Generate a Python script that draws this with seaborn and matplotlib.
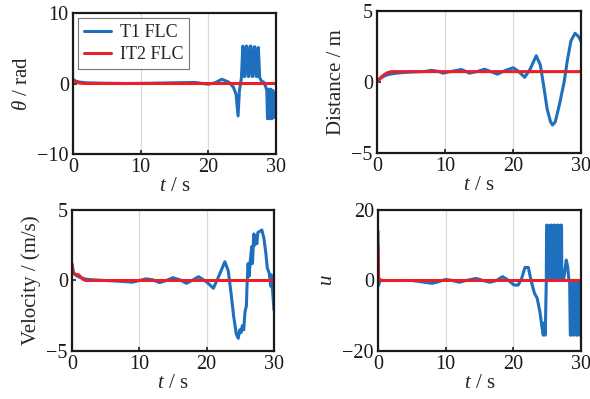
import numpy as np
import pandas as pd
import matplotlib
matplotlib.use("Agg")
import matplotlib.pyplot as plt
import seaborn as sns
from matplotlib.lines import Line2D

# ---------------- data (knots) ----------------
series_names = ["T1 FLC", "IT2 FLC"]
colors = ["#1f6fbf", "#e8202a"]

# theta
theta_t1_t = [0, 0.5, 1, 2, 4, 8, 12, 15, 18, 20, 21, 22, 23, 23.7, 24.1, 24.4, 24.6, 24.9,
              25.1, 25.3, 25.4, 25.6, 25.7, 25.9, 26.0, 26.2, 26.3, 26.5, 26.6, 26.8, 26.9, 27.1,
              27.2, 27.4, 27.6, 27.9, 28.2, 28.5, 28.65, 28.75, 28.95, 29.1, 29.25, 29.4, 29.55, 29.75, 29.9, 30]
theta_t1_y = [0.5, 0.3, 0.2, 0.1, 0.05, 0.0, 0.05, 0.1, 0.15, -0.1, 0.1, 0.6, 0.2, -0.5, -1.5, -4.6, -1.0, 0.8,
              5.3, 1.0, 1.0, 5.3, 5.3, 1.0, 1.0, 5.3, 5.3, 1.0, 1.0, 5.2, 5.2, 1.0,
              1.0, 5.1, 0.8, 0.3, 0.2, -0.5, -1.0, -5.0, -0.8, -5.0, -0.8, -5.0, -1.0, -4.8, -1.5, -3.3]
theta_it2_t = [0, 0.5, 1, 2, 30]
theta_it2_y = [0.6, 0.2, 0.05, 0.0, 0.0]

# distance
dist_t1_t = [0, 0.5, 1, 1.5, 2, 3, 4, 5, 6, 7, 8, 9, 9.7, 11, 12.4, 13.6, 14.8, 15.8, 16.8, 17.7,
             18.8, 20, 20.8, 21.7, 22.5, 23.4, 24.0, 24.5, 25.0, 25.5, 25.8, 26.2, 26.8, 27.5,
             28.0, 28.5, 29.1, 29.6, 30]
dist_t1_y = [0.0, 0.25, 0.4, 0.5, 0.56, 0.63, 0.67, 0.7, 0.72, 0.74, 0.82, 0.75, 0.62, 0.75, 0.88, 0.62, 0.75, 0.9, 0.72, 0.55,
             0.8, 1.0, 0.75, 0.33, 0.9, 1.85, 1.2, -0.3, -1.9, -2.8, -3.03, -2.8, -1.6, 0.0,
             1.6, 2.9, 3.43, 3.2, 2.84]
dist_it2_t = [0, 0.5, 1, 1.5, 2, 2.5, 30]
dist_it2_y = [0.0, 0.3, 0.5, 0.65, 0.72, 0.73, 0.73]

# velocity
vel_t1_t = [0, 0.2, 0.5, 1, 2, 3, 5, 7, 9, 10, 11, 12, 13, 14, 15, 16, 17, 18, 18.8, 20, 21,
            21.8, 22.7, 23.2, 23.6, 24.0, 24.4, 24.7, 24.9, 25.1, 25.3, 25.5, 25.7, 25.9, 26.0,
            26.15, 26.3, 26.5, 26.7, 26.8, 27.0, 27.1, 27.3, 27.45, 27.6, 28.2, 28.5, 28.8, 29.0,
            29.3, 29.5, 29.6, 29.8, 30]
vel_t1_y = [1.2, 0.6, 0.4, 0.25, 0.1, 0.05, 0.0, -0.05, -0.12, 0.0, 0.12, 0.05, -0.15, 0.0, 0.2, 0.05, -0.2, 0.05, 0.27, -0.1, -0.55,
            0.3, 1.33, 0.7, -0.8, -2.5, -3.8, -4.1, -3.5, -3.7, -3.2, -3.5, -2.2, -1.8, -0.3,
            1.2, 0.3, 1.5, 2.4, 1.2, 3.3, 2.5, 3.2, 2.6, 3.4, 3.58, 3.0, 1.9, 0.9,
            0.5, -0.4, 0.4, -0.8, -2.1]
vel_it2_t = [0, 0.15, 0.4, 1.0, 1.3, 1.6, 2.0, 30]
vel_it2_y = [1.1, 0.6, 0.45, 0.4, 0.25, 0.1, 0.0, 0.0]

# control input u
u_t1_t = [0, 0.05, 0.3, 2, 5, 8, 9, 10, 11, 12, 13, 14.5, 15.5, 16.5, 17.5, 18.4, 19.3, 20.1, 20.7,
          21.2, 21.7, 22.2, 22.6, 23.1, 23.5, 23.9, 24.2, 24.4, 24.55, 24.7, 24.85,
          24.9, 25.05, 25.1, 25.4, 25.45, 25.6, 25.65, 25.9, 25.95, 26.1, 26.15, 26.4, 26.45, 26.6,
          26.65, 26.9, 26.95, 27.1, 27.15, 27.4, 27.8, 28.0, 28.2,
          28.3, 28.4, 28.55, 28.6, 28.75, 28.9, 28.95, 29.1, 29.25, 29.3, 29.45, 29.6, 29.65, 29.8, 29.95, 30]
u_t1_y = [14, -1.5, 0, 0, 0, -0.8, -0.3, 0.3, 0.0, -0.5, 0.0, 0.6, 0.0, -0.5, 0.0, 1.1, 0.0, -1.3, -1.3,
          0.5, 3.7, 3.7, 0.0, -3.6, -5.0, -8.8, -13, -15.5, -12, -15.5, 0,
          15.7, 15.7, 0, 0, 15.7, 15.7, 0, 0, 15.7, 15.7, 0, 0, 15.7, 15.7,
          0, 0, 15.7, 15.7, 0, 0, 5.8, 4.0, 0,
          0, -15.5, -15.5, 0, 0, -15.5, -15.5, 0, 0, -15.5, -15.5, 0, 0, -15.5, -1, -15.5]
u_it2_t = [0, 0.1, 0.5, 30]
u_it2_y = [10, 0.5, 0.0, 0.0]

ylabels = [r"$\theta$ / rad", "Distance / m", "Velocity / (m/s)", r"$u$"]
xlabel = r"$t$ / s"
yticks = [[-10, 0, 10], [-5, 0, 5], [-5, 0, 5], [-20, 0, 20]]
xticks = [0, 10, 20, 30]

panels = [
    (theta_t1_t, theta_t1_y, theta_it2_t, theta_it2_y),
    (dist_t1_t, dist_t1_y, dist_it2_t, dist_it2_y),
    (vel_t1_t, vel_t1_y, vel_it2_t, vel_it2_y),
    (u_t1_t, u_t1_y, u_it2_t, u_it2_y),
]

# ---------------- styling ----------------
sns.set_theme(style="white")
plt.rcParams["font.family"] = ["Liberation Serif", "DejaVu Serif"]
plt.rcParams["mathtext.fontset"] = "custom"
plt.rcParams["mathtext.rm"] = "Liberation Serif"
plt.rcParams["mathtext.it"] = "Liberation Serif:italic"
plt.rcParams["axes.unicode_minus"] = True

fig = plt.figure(figsize=(5.9, 3.99), dpi=100)
positions = [
    [0.1237, 0.614, 0.344, 0.3534],
    [0.639, 0.6165, 0.3460, 0.356],
    [0.122, 0.1203, 0.3424, 0.3534],
    [0.6407, 0.1203, 0.3443, 0.3534],
]

palette = dict(zip(series_names, colors))
for i, (t1t, t1y, t2t, t2y) in enumerate(panels):
    ax = fig.add_axes(positions[i])
    df = pd.concat([
        pd.DataFrame({"t": t1t, "v": t1y, "ctrl": series_names[0]}),
        pd.DataFrame({"t": t2t, "v": t2y, "ctrl": series_names[1]}),
    ], ignore_index=True)
    sns.lineplot(data=df, x="t", y="v", hue="ctrl", palette=palette, estimator=None,
                 sort=False, linewidth=2.2, legend=False, ax=ax)
    ax.set_xlim(0, 30)
    ax.set_ylim(yticks[i][0], yticks[i][-1])
    ax.set_xticks(xticks)
    ax.set_yticks(yticks[i])
    ax.grid(axis="x", color="#d9d9d9", linewidth=0.9)
    ax.grid(axis="y", visible=False)
    ax.set_axisbelow(True)
    for sp in ax.spines.values():
        sp.set_visible(True)
        sp.set_color("#1a1a1a")
        sp.set_linewidth(1.6)
    ax.tick_params(axis="both", direction="in", length=3, width=1.2, labelsize=14.5,
                   bottom=True, left=True, pad=3, colors="#1a1a1a")
    ax.set_xlabel(xlabel, fontsize=15, labelpad=0)
    ax.set_ylabel(ylabels[i], fontsize=15, labelpad=4)
    if i == 0:
        handles = [Line2D([], [], color=c, linewidth=2.2) for c in colors]
        leg = ax.legend(handles, series_names, loc="upper left", fontsize=13,
                        frameon=True, fancybox=False, handlelength=1.5, handletextpad=0.5,
                        borderpad=0.3, labelspacing=0.3, borderaxespad=0.3)
        leg.get_frame().set_edgecolor("#555555")
        leg.get_frame().set_linewidth(0.8)

fig.savefig("out.png", dpi=100)
